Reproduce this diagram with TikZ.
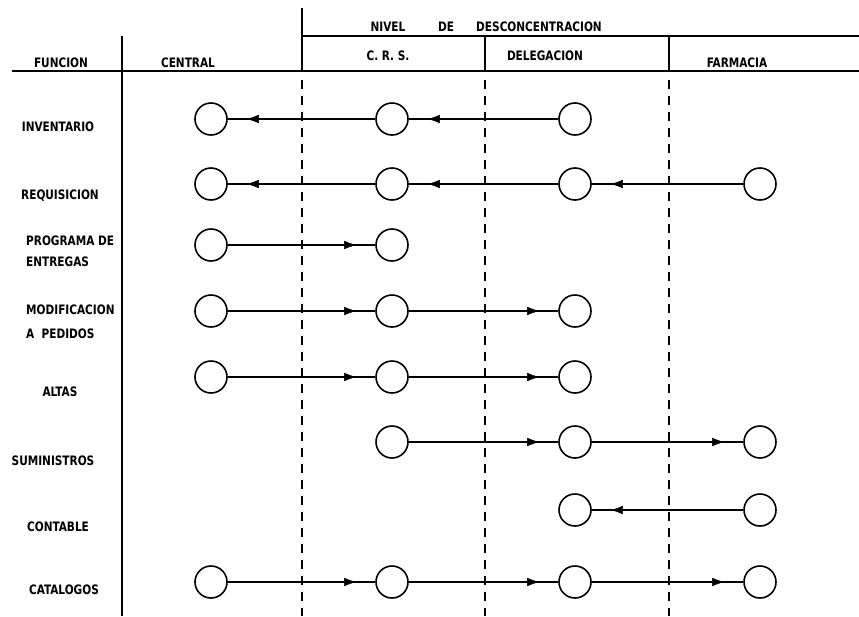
\documentclass[tikz,border=0pt]{standalone}
\usepackage{fontspec}
\newfontfamily\lbl{DejaVu Sans Condensed}[BoldFont={DejaVu Sans Condensed Bold},FakeStretch=0.9]
\usetikzlibrary{arrows.meta,decorations.markings}
\tikzset{
  stage/.style={circle,draw,line width=1.6pt,minimum size=32pt,inner sep=0pt},
  flow/.style={line width=1.7pt,postaction={decorate},
    decoration={markings,mark=at position -19pt with {\arrow[line width=0.4pt]{Latex[length=12pt,width=8.5pt]}}}},
  rule/.style={line width=1.5pt},
  divider/.style={line width=1.8pt,dash pattern=on 9pt off 7pt},
  txt/.style={font=\lbl\bfseries\fontsize{13}{15}\selectfont,inner sep=0pt,anchor=base},
  ltxt/.style={txt,anchor=base west,align=left}
}
\begin{document}
\begin{tikzpicture}[x=1pt,y=-1pt]
\useasboundingbox (0,0) rectangle (859,616);
% header frame
\coordinate (h1) at (12,71);
\coordinate (h2) at (859,71);
\coordinate (n1) at (302,36);
\coordinate (n2) at (859,36);
\coordinate (vt) at (302,8);
\coordinate (vl1) at (122,36);
\coordinate (vl2) at (122,616);
\draw[rule] (h1) -- (h2);
\draw[rule] (n1) -- (n2);
\draw[rule] (vt) -- (302,71);
\draw[rule] (vl1) -- (vl2);
\draw[rule] (485,36) -- (485,71);
\draw[rule] (669,36) -- (669,71);
% dashed column dividers
\coordinate (d1t) at (302,80); \coordinate (d1b) at (302,616);
\coordinate (d2t) at (485,80); \coordinate (d2b) at (485,616);
\coordinate (d3t) at (669,80); \coordinate (d3b) at (669,616);
\draw[divider] (d1t) -- (d1b);
\draw[divider] (d2t) -- (d2b);
\draw[divider] (d3t) -- (d3b);
% header texts
\node[txt] (tn1) at (388,31) {NIVEL};
\node[txt] (tn2) at (446,31) {DE};
\node[txt] (tn3) at (539,31) {DESCONCENTRACION};
\node[txt] (tf) at (61,67) {FUNCION};
\node[txt] (tc) at (188,67) {CENTRAL};
\node[txt] (tcrs) at (388,60) {C. R. S.};
\node[txt] (tdel) at (545,60) {DELEGACION};
\node[txt] (tfar) at (737,67) {FARMACIA};
% row labels
\node[txt] (l1) at (58,131) {INVENTARIO};
\node[txt] (l2) at (60,199) {REQUISICION};
\node[ltxt] (l3a) at (26,245) {PROGRAMA DE};
\node[ltxt] (l3b) at (26,266) {ENTREGAS};
\node[ltxt] (l4a) at (26,314) {MODIFICACION};
\node[ltxt] (l4b) at (26,338) {A\ \ PEDIDOS};
\node[txt] (l5) at (60,396) {ALTAS};
\node[txt] (l6) at (53,465) {SUMINISTROS};
\node[txt] (l7) at (58,531) {CONTABLE};
\node[txt] (l8) at (64,594) {CATALOGOS};
% circles: columns a=central b=crs c=delegacion d=farmacia
\def\xa{211}\def\xb{392}\def\xc{575}\def\xd{760}
\node[stage] (a1) at (\xa,119) {};
\node[stage] (b1) at (\xb,119) {};
\node[stage] (c1) at (\xc,119) {};
\node[stage] (a2) at (\xa,184) {};
\node[stage] (b2) at (\xb,184) {};
\node[stage] (c2) at (\xc,184) {};
\node[stage] (d2) at (\xd,184) {};
\node[stage] (a3) at (\xa,245) {};
\node[stage] (b3) at (\xb,245) {};
\node[stage] (a4) at (\xa,311) {};
\node[stage] (b4) at (\xb,311) {};
\node[stage] (c4) at (\xc,311) {};
\node[stage] (a5) at (\xa,377) {};
\node[stage] (b5) at (\xb,377) {};
\node[stage] (c5) at (\xc,377) {};
\node[stage] (b6) at (\xb,442) {};
\node[stage] (c6) at (\xc,442) {};
\node[stage] (d6) at (\xd,442) {};
\node[stage] (c7) at (\xc,510) {};
\node[stage] (d7) at (\xd,510) {};
\node[stage] (a8) at (\xa,582) {};
\node[stage] (b8) at (\xb,582) {};
\node[stage] (c8) at (\xc,582) {};
\node[stage] (d8) at (\xd,582) {};
% flows
\draw[flow] (c1) -- (b1);
\draw[flow] (b1) -- (a1);
\draw[flow] (d2) -- (c2);
\draw[flow] (c2) -- (b2);
\draw[flow] (b2) -- (a2);
\draw[flow] (a3) -- (b3);
\draw[flow] (a4) -- (b4);
\draw[flow] (b4) -- (c4);
\draw[flow] (a5) -- (b5);
\draw[flow] (b5) -- (c5);
\draw[flow] (b6) -- (c6);
\draw[flow] (c6) -- (d6);
\draw[flow] (d7) -- (c7);
\draw[flow] (a8) -- (b8);
\draw[flow] (b8) -- (c8);
\draw[flow] (c8) -- (d8);
\end{tikzpicture}
\end{document}
